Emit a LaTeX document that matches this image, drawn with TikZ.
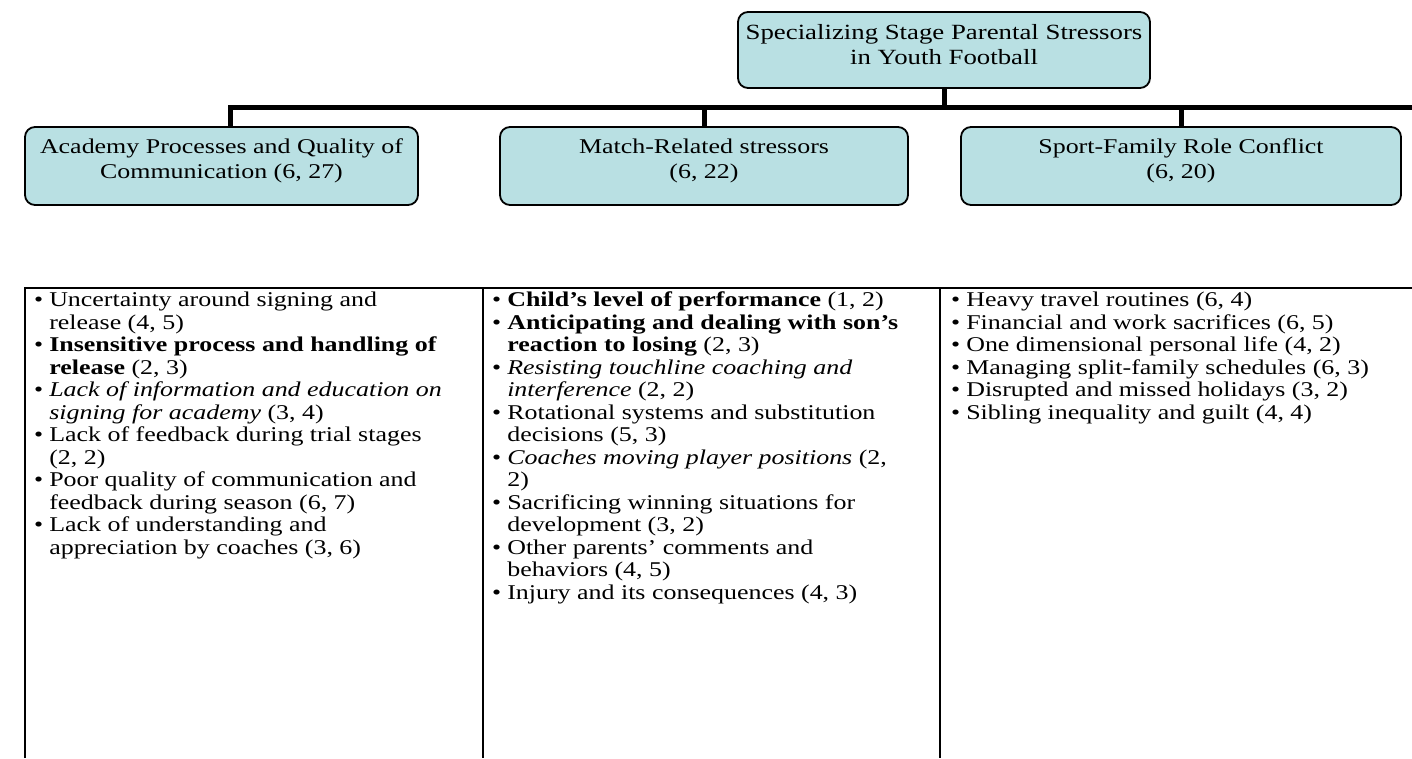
\documentclass[tikz,border=0pt]{standalone}
\usepackage{fontspec}
\setmainfont{Liberation Serif}[FakeStretch=1.235]
\definecolor{boxfill}{RGB}{185,224,227}
\newcommand{\bul}{\textbullet}
\tikzset{
  box/.style={draw=black, line width=1.8pt, rounded corners=10pt, fill=boxfill, inner sep=0pt},
  boxtxt/.style={align=center, font=\fontsize{21}{25}\selectfont, inner sep=0pt},
  roottxt/.style={align=center, font=\fontsize{21.7}{25}\selectfont, inner sep=0pt},
  conn/.style={line width=5pt, line join=miter},
  tabrule/.style={line width=1.5pt},
  coltxt/.style={anchor=north west, inner sep=0pt, font=\fontsize{21}{22.5}\selectfont},
}
\begin{document}
\begin{tikzpicture}[x=1pt,y=-1pt]
\useasboundingbox (0,0) rectangle (1412,758);
% boxes
\node[box, minimum width=412pt, minimum height=76pt] (root) at (944,50) {};
\node[roottxt] (rtxt) at ([yshift=5.5pt]root.center) {Specializing Stage Parental Stressors\\in Youth Football};
\node[box, minimum width=393pt, minimum height=78pt] (a) at (221.5,166) {};
\node[boxtxt] (atxt) at ([yshift=5pt]a.center) {Academy Processes and Quality of\\Communication (6, 27)};
\node[box, minimum width=408pt, minimum height=78pt] (b) at (704,166) {};
\node[boxtxt] (btxt) at ([yshift=5pt]b.center) {Match-Related stressors\\(6, 22)};
\node[box, minimum width=440pt, minimum height=78pt] (c) at (1181,166) {};
\node[boxtxt] (ctxt) at ([yshift=5pt]c.center) {Sport-Family Role Conflict\\(6, 20)};
% connectors
\coordinate (barL) at (230,107);
\coordinate (barR) at (1412,107);
\draw[conn] ([xshift=8.5pt]a.north) -- (barL) -- (barR);
\draw[conn] (root.south) -- (root.south |- barL);
\draw[conn] (b.north) -- (b.north |- barL);
\draw[conn] (c.north) -- (c.north |- barL);
% table
\draw[tabrule] (25,758) -- (25,288) -- (1412,288);
\draw[tabrule] (483,288) -- (483,758);
\draw[tabrule] (940,288) -- (940,758);
\node[coltxt] (col1) at (34,291) {\begin{tabular}{@{}l@{\hspace{6pt}}l@{}}
\bul & Uncertainty around signing and\\
 & release (4, 5)\\
\bul & \textbf{Insensitive process and handling of}\\
 & \textbf{release} (2, 3)\\
\bul & \textit{Lack of information and education on}\\
 & \textit{signing for academy} (3, 4)\\
\bul & Lack of feedback during trial stages\\
 & (2, 2)\\
\bul & Poor quality of communication and\\
 & feedback during season (6, 7)\\
\bul & Lack of understanding and\\
 & appreciation by coaches (3, 6)
\end{tabular}};
\node[coltxt] (col2) at (492,291) {\begin{tabular}{@{}l@{\hspace{6pt}}l@{}}
\bul & \textbf{Child's level of performance} (1, 2)\\
\bul & \textbf{Anticipating and dealing with son's}\\
 & \textbf{reaction to losing} (2, 3)\\
\bul & \textit{Resisting touchline coaching and}\\
 & \textit{interference} (2, 2)\\
\bul & Rotational systems and substitution\\
 & decisions (5, 3)\\
\bul & \textit{Coaches moving player positions} (2,\\
 & 2)\\
\bul & Sacrificing winning situations for\\
 & development (3, 2)\\
\bul & Other parents' comments and\\
 & behaviors (4, 5)\\
\bul & Injury and its consequences (4, 3)
\end{tabular}};
\node[coltxt] (col3) at (951,291) {\begin{tabular}{@{}l@{\hspace{6pt}}l@{}}
\bul & Heavy travel routines (6, 4)\\
\bul & Financial and work sacrifices (6, 5)\\
\bul & One dimensional personal life (4, 2)\\
\bul & Managing split-family schedules (6, 3)\\
\bul & Disrupted and missed holidays (3, 2)\\
\bul & Sibling inequality and guilt (4, 4)
\end{tabular}};
\end{tikzpicture}
\end{document}
